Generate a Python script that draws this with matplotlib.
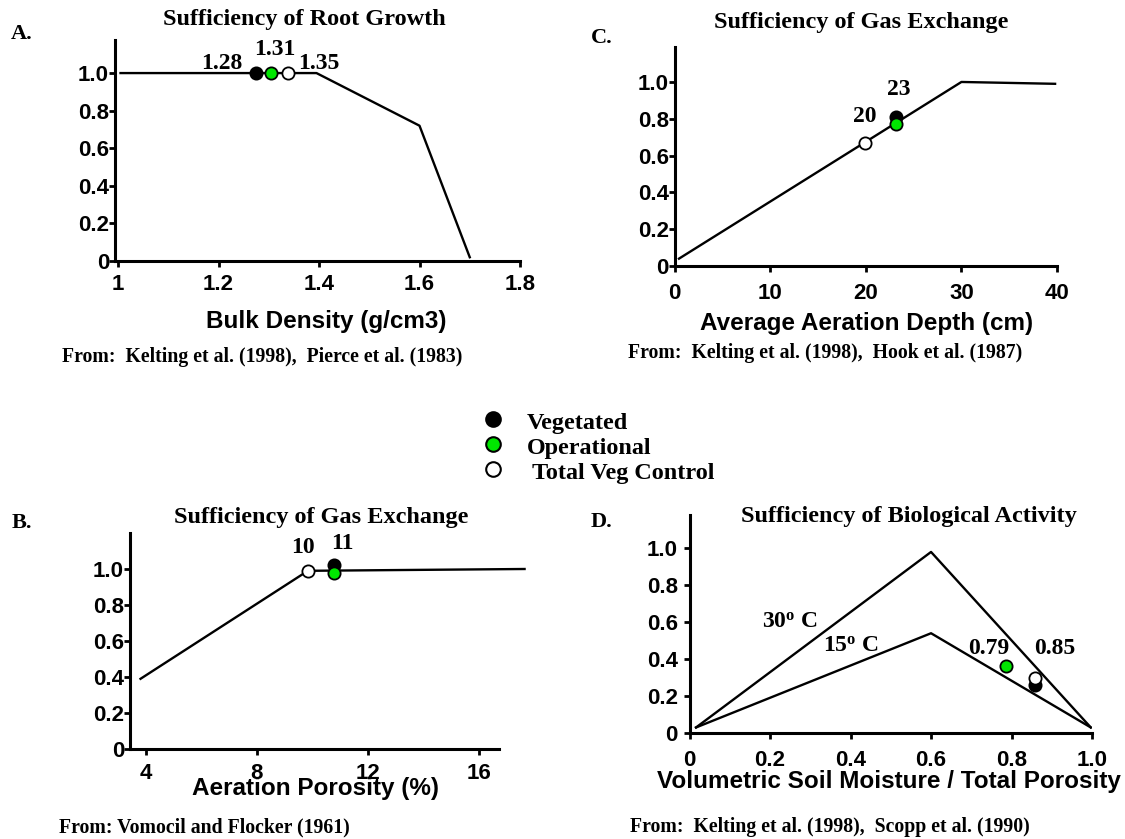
import matplotlib
matplotlib.use("Agg")
import matplotlib.pyplot as plt
from matplotlib.lines import Line2D

W, H = 1125, 839
SANS = "Liberation Sans"
SERIF = "Liberation Serif"
GREEN = "#00e600"

plt.rcParams["mathtext.fontset"] = "custom"
plt.rcParams["mathtext.rm"] = "Liberation Serif:bold"
plt.rcParams["mathtext.it"] = "Liberation Serif:bold"
plt.rcParams["mathtext.bf"] = "Liberation Serif:bold"

# point order everywhere: vegetated, operational, total veg control
PT_FACE = ["black", GREEN, "white"]

# A. root growth vs bulk density
bulk_density = [1.005, 1.395, 1.60, 1.70]
root_suff = [1.0, 1.0, 0.72, 0.02]
root_pts_x = [1.274, 1.304, 1.338]
root_pts_y = [1.0, 1.0, 1.0]
root_labels = ["1.28", "1.31", "1.35"]
root_label_x = [1.206, 1.313, 1.40]
root_label_y = [1.053, 1.128, 1.053]

# C. gas exchange vs aeration depth
depth = [0.45, 30.0, 39.8]
depth_suff = [0.04, 1.0, 0.99]
depth_pts_x = [23.2, 23.2, 19.95]
depth_pts_y = [0.81, 0.77, 0.67]
depth_labels = ["23", "20"]
depth_label_x = [23.4, 19.9]
depth_label_y = [0.96, 0.81]

# B. gas exchange vs aeration porosity
porosity = [3.8, 9.84, 17.66]
porosity_suff = [0.39, 0.99, 1.0]
por_pts_x = [10.79, 10.79, 9.84]
por_pts_y = [1.02, 0.98, 0.99]
por_labels = ["10", "11"]
por_label_x = [9.65, 11.07]
por_label_y = [1.12, 1.14]

# D. biological activity vs moisture / porosity
moisture = [0.016, 0.60, 0.997]
bio_30c = [0.03, 0.98, 0.03]
bio_15c = [0.03, 0.54, 0.03]
bio_pts_x = [0.859, 0.786, 0.859]
bio_pts_y = [0.26, 0.36, 0.30]
bio_labels = ["0.79", "0.85"]
bio_label_x = [0.744, 0.908]
bio_label_y = [0.46, 0.46]

legend_labels = ["Vegetated", "Operational", "Total Veg Control"]


def box(l, r, t, b):
    return [l / W, 1 - b / H, (r - l) / W, (b - t) / H]


def fx(x):
    return x / W


def fy(y):
    return 1 - y / H


def setup(ax, xlim, ylim, xticks, xtl, yticks, ytl, ypad, xpad):
    ax.set_xlim(*xlim)
    ax.set_ylim(*ylim)
    for s in ["top", "right"]:
        ax.spines[s].set_visible(False)
    for s in ["left", "bottom"]:
        ax.spines[s].set_linewidth(2.2)
    ax.set_xticks(xticks)
    ax.set_xticklabels(xtl)
    ax.set_yticks(yticks)
    ax.set_yticklabels(ytl)
    ax.tick_params(direction="out", length=4.3, width=2)
    ax.tick_params(axis="y", pad=ypad)
    ax.tick_params(axis="x", pad=xpad)
    for lab in ax.get_xticklabels() + ax.get_yticklabels():
        lab.set_fontfamily(SANS)
        lab.set_fontweight("bold")
        lab.set_fontsize(16)


def points(ax, xs, ys):
    for x, y, fc in zip(xs, ys, PT_FACE):
        ax.plot([x], [y], "o", ms=8.8, mfc=fc, mec="black", mew=1.3,
                clip_on=False, zorder=5)


def labels(ax, xs, ys, texts):
    for x, y, t in zip(xs, ys, texts):
        ax.text(x, y, t, ha="center", va="center", family=SERIF,
                fontweight="bold", fontsize=17)


fig = plt.figure(figsize=(W / 100, H / 100), dpi=100)

yt = [0, 0.2, 0.4, 0.6, 0.8, 1.0]
ytl = ["0", "0.2", "0.4", "0.6", "0.8", "1.0"]

# A
ax = fig.add_axes(box(115, 520, 40, 261))
ax.plot(bulk_density, root_suff, color="black", lw=1.7)
points(ax, root_pts_x, root_pts_y)
labels(ax, root_label_x, root_label_y, root_labels)
setup(ax, (0.994, 1.8), (0, 1.176), [1, 1.2, 1.4, 1.6, 1.8],
      ["1", "1.2", "1.4", "1.6", "1.8"], yt, ytl, 0, 5)

# C
ax = fig.add_axes(box(674.7, 1057, 47, 266))
ax.plot(depth, depth_suff, color="black", lw=1.7)
points(ax, depth_pts_x, depth_pts_y)
labels(ax, depth_label_x, depth_label_y, depth_labels)
setup(ax, (0, 40), (0, 1.19), [0, 10, 20, 30, 40],
      ["0", "10", "20", "30", "40"], yt, ytl, 0, 8)

# B
ax = fig.add_axes(box(130, 498.8, 533, 749))
ax.plot(porosity, porosity_suff, color="black", lw=1.7, clip_on=False)
points(ax, por_pts_x, por_pts_y)
labels(ax, por_label_x, por_label_y, por_labels)
setup(ax, (3.42, 16.73), (0, 1.2), [4, 8, 12, 16],
      ["4", "8", "12", "16"], yt, ytl, 0, 6)

# D
ax = fig.add_axes(box(689.6, 1092, 515, 733))
ax.plot(moisture, bio_30c, color="black", lw=1.7)
ax.plot(moisture, bio_15c, color="black", lw=1.7)
points(ax, bio_pts_x, bio_pts_y)
labels(ax, bio_label_x, bio_label_y, bio_labels)
ax.text(0.25, 0.60, r"30$^{o}$ C", ha="center", va="center",
        family=SERIF, fontweight="bold", fontsize=17)
ax.text(0.40, 0.47, r"15$^{o}$ C", ha="center", va="center",
        family=SERIF, fontweight="bold", fontsize=17)
setup(ax, (0, 1.0), (0, 1.18), [0, 0.2, 0.4, 0.6, 0.8, 1.0],
      ["0", "0.2", "0.4", "0.6", "0.8", "1.0"], yt, ytl, 4.3, 8)

serif_bold = dict(family=SERIF, fontweight="bold")
sans_bold = dict(family=SANS, fontweight="bold", fontsize=17.5)

# titles and panel letters
fig.text(fx(304), fy(25), "Sufficiency of Root Growth", ha="center",
         va="baseline", fontsize=17.5, **serif_bold)
fig.text(fx(861), fy(28), "Sufficiency of Gas Exchange", ha="center",
         va="baseline", fontsize=17.5, **serif_bold)
fig.text(fx(321), fy(523), "Sufficiency of Gas Exchange", ha="center",
         va="baseline", fontsize=17.5, **serif_bold)
fig.text(fx(909), fy(522), "Sufficiency of Biological Activity", ha="center",
         va="baseline", fontsize=17.5, **serif_bold)
for x, y, t in [(11, 39, "A."), (591, 43, "C."), (12, 528, "B."), (591, 527, "D.")]:
    fig.text(fx(x), fy(y), t, ha="left", va="baseline", fontsize=16, **serif_bold)

# axis labels
fig.text(fx(326), fy(328), "Bulk Density (g/cm3)", ha="center", va="baseline", **sans_bold)
fig.text(fx(867), fy(330), "Average Aeration Depth (cm)", ha="center", va="baseline", **sans_bold)
fig.text(fx(316), fy(795), "Aeration Porosity (%)", ha="center", va="baseline", **sans_bold)
fig.text(fx(889), fy(788), "Volumetric Soil Moisture / Total Porosity", ha="center",
         va="baseline", **sans_bold)

# sources
fig.text(fx(62), fy(362), "From:  Kelting et al. (1998),  Pierce et al. (1983)",
         ha="left", va="baseline", fontsize=14.2, **serif_bold)
fig.text(fx(628), fy(358), "From:  Kelting et al. (1998),  Hook et al. (1987)",
         ha="left", va="baseline", fontsize=14.2, **serif_bold)
fig.text(fx(59), fy(832), "From: Vomocil and Flocker (1961)",
         ha="left", va="baseline", fontsize=14.2, **serif_bold)
fig.text(fx(630), fy(832), "From:  Kelting et al. (1998),  Scopp et al. (1990)",
         ha="left", va="baseline", fontsize=14.2, **serif_bold)

# legend
leg_y = [419, 444, 469]
leg_text_x = [527, 527, 532]
for fc, y, tx, t in zip(PT_FACE, leg_y, leg_text_x, legend_labels):
    fig.add_artist(Line2D([fx(493)], [fy(y)], marker="o", ms=10.5, mfc=fc,
                          mec="black", mew=1.5, transform=fig.transFigure))
    fig.text(fx(tx), fy(y + 10), t, ha="left", va="baseline", fontsize=17.4,
             **serif_bold)

fig.savefig("out.png", dpi=100)
